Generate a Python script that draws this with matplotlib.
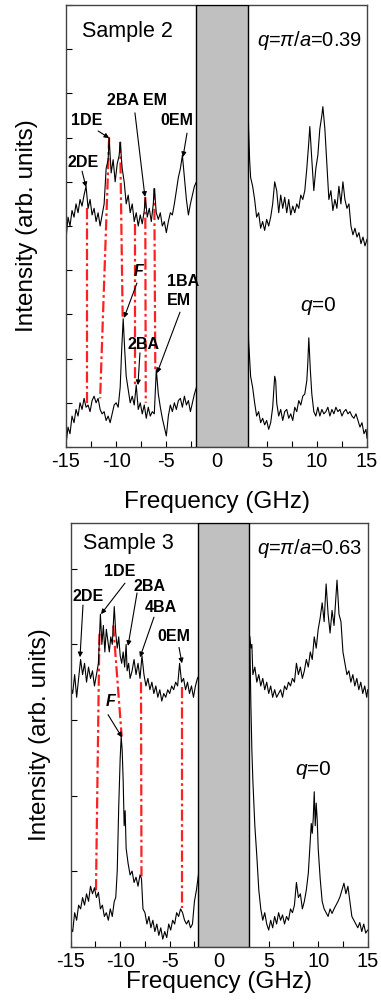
import matplotlib
matplotlib.use("Agg")
import matplotlib.pyplot as plt
from matplotlib.patches import Rectangle

plt.rcParams['font.family'] = ['Liberation Sans', 'DejaVu Sans']
plt.rcParams['mathtext.fontset'] = 'custom'
plt.rcParams['mathtext.it'] = 'Liberation Sans:italic'
plt.rcParams['mathtext.rm'] = 'Liberation Sans'
plt.rcParams['axes.unicode_minus'] = False

# ---------------- Sample 2 (top panel) ----------------
s2_hi_left_x = [-15.0, -14.8, -14.6, -14.4, -14.2, -14.0, -13.8, -13.6, -13.4, -13.2, -13.0, -12.8, -12.6, -12.4,
                -12.2, -12.0, -11.8, -11.6, -11.4, -11.2, -11.0, -10.8, -10.7, -10.5, -10.3, -10.1, -9.9, -9.7,
                -9.6, -9.4, -9.2, -9.0, -8.8, -8.6, -8.4, -8.2, -8.0, -7.8, -7.6, -7.4, -7.2, -7.1, -6.9, -6.7,
                -6.5, -6.3, -6.2, -6.0, -5.8, -5.6, -5.4, -5.2, -5.0, -4.8, -4.6, -4.4, -4.2, -4.0, -3.8, -3.6,
                -3.4, -3.2, -3.0, -2.8, -2.6, -2.4, -2.2, -2.0]
s2_hi_left_y = [4.7, 5.2, 5.0, 5.35, 5.2, 5.5, 5.3, 5.6, 5.45, 5.7, 5.9, 5.4, 5.6, 5.25,
                5.4, 5.1, 5.3, 5.0, 5.25, 5.5, 6.3, 6.5, 7.0, 6.2, 6.5, 6.0, 6.4, 6.6,
                6.9, 6.3, 6.0, 5.5, 5.7, 5.3, 5.5, 5.1, 5.3, 5.0, 5.25, 5.05, 5.35, 5.65, 5.2, 5.4,
                5.1, 5.5, 5.85, 5.3, 5.15, 5.3, 5.0, 5.1, 4.85, 5.1, 5.3, 5.25, 5.5, 5.8, 6.1, 6.3,
                6.6, 6.1, 5.6, 5.25, 5.5, 5.7, 5.9, 6.0]
s2_hi_right_x = [3.1, 3.2, 3.3, 3.4, 3.6, 3.8, 4.0, 4.2, 4.4, 4.6, 4.8, 5.0, 5.2, 5.4, 5.6, 5.8, 6.0, 6.2, 6.4,
                 6.6, 6.8, 7.0, 7.2, 7.4, 7.6, 7.8, 8.0, 8.2, 8.4, 8.6, 8.8, 9.0, 9.2, 9.3, 9.5, 9.7, 9.9, 10.1,
                 10.3, 10.5, 10.6, 10.8, 11.0, 11.2, 11.4, 11.6, 11.8, 12.0, 12.2, 12.4, 12.6, 12.8, 13.0, 13.2,
                 13.4, 13.6, 13.8, 14.0, 14.2, 14.4, 14.6, 14.8, 15.0]
s2_hi_right_y = [8.6, 7.2, 6.5, 6.1, 5.9, 5.6, 5.2, 5.3, 4.95, 5.1, 4.9, 5.15, 5.0, 5.2, 5.5, 6.0, 5.8, 5.3, 5.7,
                 5.4, 5.65, 5.3, 5.6, 5.25, 5.45, 5.3, 5.5, 5.4, 5.7, 5.6, 5.8, 6.3, 6.9, 7.25, 6.5, 5.8, 6.3, 6.6,
                 7.2, 7.5, 7.7, 7.2, 6.4, 5.6, 5.8, 5.35, 5.6, 5.4, 5.9, 5.5, 6.0, 5.6, 5.4, 5.5,
                 5.0, 4.8, 4.95, 4.75, 4.85, 4.6, 4.75, 4.55, 4.7]

s2_lo_left_x = [-15.0, -14.8, -14.6, -14.4, -14.2, -14.0, -13.8, -13.6, -13.4, -13.2, -13.0, -12.8, -12.6, -12.4,
                -12.2, -12.0, -11.8, -11.6, -11.4, -11.2, -11.0, -10.8, -10.6, -10.4, -10.2, -10.0, -9.8, -9.6,
                -9.45, -9.3, -9.15, -9.0, -8.8, -8.6, -8.4, -8.2, -8.0, -7.8, -7.6, -7.4, -7.2, -7.0, -6.8,
                -6.6, -6.4, -6.2, -6.0, -5.8, -5.6, -5.4, -5.2, -5.0, -4.8, -4.6, -4.4, -4.2, -4.0, -3.8, -3.6,
                -3.4, -3.2, -3.0, -2.8, -2.6, -2.4, -2.2, -2.0]
s2_lo_left_y = [0.05, 0.45, 0.3, 0.7, 0.55, 0.85, 0.7, 1.0, 0.85, 1.1, 0.9, 0.95, 0.8, 1.05,
                1.15, 1.0, 1.1, 0.85, 0.75, 0.8, 0.6, 0.7, 0.55, 0.75, 0.95, 1.0, 0.9, 1.35,
                2.2, 2.9, 2.2, 1.6, 1.3, 1.0, 1.15, 0.95, 1.4, 0.85, 1.0, 0.75, 0.95, 0.65, 0.9,
                0.7, 0.8, 0.75, 1.75, 1.2, 0.9, 0.65, 0.45, 0.25, 0.7, 0.95, 0.8, 1.0, 0.85, 1.05, 1.1,
                0.9, 1.15, 0.95, 1.05, 0.8, 1.0, 1.2, 1.35]
s2_lo_right_x = [3.1, 3.15, 3.2, 3.3, 3.4, 3.6, 3.8, 4.0, 4.2, 4.4, 4.6, 4.8, 5.0, 5.2, 5.4, 5.6, 5.8, 5.9, 6.0,
                 6.2, 6.4, 6.6, 6.8, 7.0, 7.2, 7.4, 7.6, 7.8, 8.0, 8.2, 8.4, 8.6, 8.8, 9.0, 9.1, 9.2, 9.35, 9.5,
                 9.7, 9.9, 10.1, 10.3, 10.5, 10.7, 10.9, 11.1, 11.3, 11.5, 11.7, 11.9, 12.1, 12.3, 12.5, 12.7,
                 12.9, 13.1, 13.3, 13.5, 13.7, 13.9, 14.1, 14.3, 14.5, 14.7, 14.9, 15.0]
s2_lo_right_y = [5.0, 3.1, 2.4, 2.0, 1.6, 1.35, 1.0, 0.7, 0.8, 0.55, 0.65, 0.5, 0.6, 0.4, 0.55, 0.9, 1.6, 1.5, 1.0,
                 0.7, 0.85, 0.6, 0.8, 0.85, 0.65, 0.75, 0.6, 0.9, 0.8, 1.05, 0.95, 1.15, 1.2, 1.5, 1.9, 2.47, 1.75, 1.2,
                 0.8, 0.7, 0.9, 0.7, 0.85, 0.75, 0.8, 0.9, 0.7, 0.85, 0.75, 0.9, 0.8, 0.85, 0.7, 0.8,
                 0.85, 0.75, 0.8, 0.7, 0.65, 0.75, 0.6, 0.45, 0.55, 0.3, 0.4, 0.2]

# red guide lines (x_top, y_top, x_bottom, y_bottom)
s2_guides = [(-12.9, 5.4, -12.9, 0.9), (-10.7, 7.0, -11.6, 1.1), (-9.6, 6.9, -9.35, 2.9),
             (-8.1, 5.05, -8.1, 1.4), (-7.1, 5.65, -7.05, 1.0), (-6.2, 5.85, -6.1, 1.75)]
# labels: text, text pos, arrow tail, arrow head, italic
s2_labels = [("2DE", (-13.3, 6.43), (-13.4, 6.24), (-13.0, 5.88), False),
             ("1DE", (-12.9, 7.38), (-11.8, 7.15), (-10.7, 6.99), False),
             ("2BA EM", (-7.93, 7.83), (-8.13, 7.56), (-7.13, 5.66), False),
             ("0EM", (-3.94, 7.38), (-2.94, 7.10), (-3.34, 6.56), False),
             ("F", (-7.73, 3.96), (-7.93, 3.71), (-9.22, 2.92), True),
             ("2BA", (-7.23, 2.33), (-7.63, 2.13), (-7.83, 1.40), False),
             ("1BA\nEM", (-4.94, 3.53), (-3.64, 3.05), (-5.93, 1.67), False)]

# ---------------- Sample 3 (bottom panel) ----------------
s3_hi_left_x = [-15.0, -14.8, -14.6, -14.4, -14.2, -14.0, -13.8, -13.6, -13.4, -13.2, -13.0, -12.8, -12.6, -12.4,
                -12.2, -12.0, -11.85, -11.7, -11.55, -11.4, -11.25, -11.1, -10.95, -10.8, -10.6, -10.45, -10.3,
                -10.15, -10.0, -9.85, -9.7, -9.55, -9.4, -9.3, -9.15, -9.0, -8.8, -8.6, -8.4, -8.2, -8.0, -7.8,
                -7.6, -7.4, -7.2, -7.0, -6.8, -6.6, -6.4, -6.2, -6.0, -5.8, -5.6, -5.4, -5.2, -5.0, -4.8, -4.6,
                -4.4, -4.2, -4.0, -3.8, -3.6, -3.4, -3.2, -3.0, -2.8, -2.6, -2.4, -2.2, -2.0]
s3_hi_left_y = [3.45, 3.35, 3.6, 3.3, 3.55, 3.8, 3.6, 3.75, 3.5, 3.7, 3.55, 3.65, 3.45, 3.6,
                3.75, 4.4, 4.0, 4.25, 3.9, 4.2, 4.05, 3.9, 4.1, 4.0, 4.5, 4.15, 3.95,
                4.1, 3.85, 3.75, 3.9, 3.7, 4.0, 3.65, 3.75, 3.55, 3.65, 3.8, 3.6, 3.75, 3.55, 3.85,
                3.6, 3.45, 3.55, 3.4, 3.5, 3.35, 3.45, 3.3, 3.4, 3.25, 3.35, 3.3, 3.4, 3.35, 3.45, 3.4,
                3.5, 3.45, 3.75, 3.5, 3.55, 3.4, 3.5, 3.35, 3.45, 3.3, 3.45, 3.55, 3.6]
s3_hi_right_x = [3.1, 3.2, 3.3, 3.4, 3.6, 3.8, 4.0, 4.2, 4.4, 4.6, 4.8, 5.0, 5.2, 5.4, 5.6, 5.8, 6.0, 6.2, 6.4,
                 6.6, 6.8, 7.0, 7.2, 7.4, 7.6, 7.8, 8.0, 8.2, 8.4, 8.6, 8.8, 9.0, 9.2, 9.4, 9.6, 9.8, 10.0, 10.2,
                 10.4, 10.6, 10.8, 11.0, 11.2, 11.4, 11.6, 11.9, 12.1, 12.3, 12.5, 12.7, 12.9, 13.1, 13.3, 13.5,
                 13.7, 13.9, 14.1, 14.3, 14.5, 14.7, 14.9, 15.0]
s3_hi_right_y = [4.1, 3.95, 4.0, 3.6, 3.7, 3.5, 3.6, 3.45, 3.55, 3.4, 3.5, 3.35, 3.45, 3.3, 3.4, 3.3, 3.35, 3.4, 3.3,
                 3.45, 3.4, 3.5, 3.45, 3.55, 3.5, 3.75, 3.6, 3.7, 3.55, 3.65, 3.8, 3.7, 3.9, 3.8, 4.1, 3.95, 4.2, 4.35,
                 4.55, 4.3, 4.8, 4.4, 4.15, 4.45, 4.25, 4.85, 4.4, 4.3, 3.9, 3.75, 3.6, 3.65, 3.5, 3.6,
                 3.45, 3.55, 3.4, 3.5, 3.35, 3.45, 3.3, 3.4]

s3_lo_left_x = [-15.0, -14.8, -14.6, -14.4, -14.2, -14.0, -13.8, -13.6, -13.4, -13.2, -13.0, -12.8, -12.6, -12.4,
                -12.2, -12.0, -11.8, -11.6, -11.4, -11.2, -11.0, -10.8, -10.6, -10.45, -10.3, -10.15, -10.0, -9.9,
                -9.8, -9.7, -9.6, -9.5, -9.4, -9.3, -9.2, -9.0, -8.8, -8.6, -8.4, -8.2, -8.0, -7.85, -7.7, -7.5,
                -7.3, -7.1, -6.9, -6.7, -6.5, -6.3, -6.1, -5.9, -5.7, -5.5, -5.3, -5.1, -4.9, -4.7, -4.5, -4.3,
                -4.1, -3.9, -3.7, -3.5, -3.3, -3.1, -2.9, -2.7, -2.5, -2.3, -2.1, -2.0]
s3_lo_left_y = [0.25, 0.2, 0.45, 0.35, 0.55, 0.5, 0.65, 0.55, 0.7, 0.6, 0.8, 0.7, 0.78, 0.65,
                0.72, 0.5, 0.55, 0.4, 0.45, 0.35, 0.5, 0.4, 0.6, 0.65, 1.0, 1.85, 2.5, 2.78,
                2.6, 2.2, 1.6, 1.8, 1.3, 1.2, 1.1, 0.95, 1.0, 0.85, 0.92, 0.8, 0.95, 0.9, 0.5, 0.45,
                0.3, 0.4, 0.25, 0.35, 0.2, 0.3, 0.15, 0.25, 0.1, 0.2, 0.12, 0.3, 0.22, 0.35, 0.3, 0.45,
                0.4, 0.5, 0.45, 0.35, 0.3, 0.35, 0.25, 0.3, 0.6, 0.75, 0.95, 1.1]
s3_lo_right_x = [3.1, 3.2, 3.3, 3.4, 3.6, 3.8, 4.0, 4.2, 4.4, 4.6, 4.8, 5.0, 5.2, 5.4, 5.6, 5.8, 6.0, 6.2, 6.4,
                 6.6, 6.8, 7.0, 7.2, 7.4, 7.6, 7.8, 8.0, 8.2, 8.4, 8.6, 8.8, 9.0, 9.15, 9.3, 9.4, 9.5, 9.6, 9.7,
                 9.8, 9.9, 10.0, 10.2, 10.4, 10.6, 10.8, 11.0, 11.2, 11.4, 11.6, 11.8, 12.0, 12.2, 12.4, 12.6,
                 12.8, 13.0, 13.2, 13.4, 13.6, 13.8, 14.0, 14.2, 14.4, 14.6, 14.8, 15.0]
s3_lo_right_y = [4.0, 3.2, 2.6, 2.2, 1.6, 1.2, 0.75, 0.5, 0.35, 0.45, 0.3, 0.22, 0.35, 0.25, 0.4, 0.3, 0.45, 0.35, 0.42,
                 0.3, 0.4, 0.35, 0.5, 0.45, 0.55, 0.85, 0.65, 0.7, 0.5, 0.6, 0.75, 0.97, 1.3, 1.63, 1.5, 1.7, 2.05, 1.6,
                 1.9, 1.68, 1.3, 0.9, 0.6, 0.5, 0.45, 0.4, 0.5, 0.44, 0.5, 0.55, 0.6, 0.66, 0.75, 0.84,
                 0.7, 0.8, 0.6, 0.4, 0.35, 0.3, 0.25, 0.32, 0.2, 0.3, 0.18, 0.22]

s3_guides = [(-12.1, 4.14, -12.45, 0.72), (-10.7, 4.25, -9.85, 2.78),
             (-7.9, 3.5, -7.85, 0.93), (-3.8, 3.44, -3.8, 0.51)]
s3_labels = [("2DE", (-13.25, 4.64), (-13.76, 4.52), (-14.06, 3.83), False),
             ("1DE", (-10.02, 4.96), (-9.52, 4.81), (-11.94, 4.40), False),
             ("2BA", (-7.09, 4.77), (-8.30, 4.68), (-9.21, 3.98), False),
             ("4BA", (-5.88, 4.49), (-6.59, 4.36), (-8.0, 3.83), False),
             ("0EM", (-4.57, 4.11), (-4.06, 3.96), (-3.76, 3.75), False),
             ("F", (-10.93, 3.24), (-11.23, 3.07), (-9.82, 2.77), True)]

xticks = [-15, -10, -5, 0, 5, 10, 15]

fig = plt.figure(figsize=(3.81, 10.01), dpi=100)
ax1 = fig.add_axes([66 / 381, 1 - 447 / 1001, 301 / 381, 442 / 1001])
ax2 = fig.add_axes([70.7 / 381, 1 - 946.7 / 1001, 297 / 381, 424 / 1001])


def style(ax, ylim, gray, ylabel_x, xlabel_y):
    ax.set_xlim(-15, 15)
    ax.set_ylim(*ylim)
    ax.add_patch(Rectangle((gray[0], ylim[0]), gray[1] - gray[0], ylim[1] - ylim[0],
                           facecolor='#c0c0c0', edgecolor='black', lw=1.0, zorder=3))
    ax.set_xticks(xticks)
    ax.set_xticks([-12.5, -7.5, -2.5, 2.5, 7.5, 12.5], minor=True)
    ax.set_yticks(range(int(ylim[0]), int(ylim[1]) + 1))
    ax.set_yticklabels([])
    ax.tick_params(axis='both', which='both', direction='in', top=False, right=False,
                   labelsize=14.5, length=4, width=0.8, pad=3.5)
    for sp in ax.spines.values():
        sp.set_color('#444444')
        sp.set_linewidth(1.0)
    ax.set_xlabel('Frequency (GHz)', fontsize=17.5)
    ax.set_ylabel('Intensity (arb. units)', fontsize=17.5)
    ax.yaxis.set_label_coords(ylabel_x, 0.5)
    ax.xaxis.set_label_coords(0.5, xlabel_y)


def draw(ax, segs, guides, labels):
    for xs, ys in segs:
        ax.plot(xs, ys, color='black', lw=0.8, zorder=2)
    for x0, y0, x1, y1 in guides:
        ax.plot([x0, x1], [y0, y1], color='#ff2020', lw=1.6,
                linestyle=(0, (5, 1.5, 1.2, 1.5)), zorder=1)
    for txt, tp, tail, head, ital in labels:
        ax.text(tp[0], tp[1], txt, fontsize=11.5, fontweight='bold',
                fontstyle='italic' if ital else 'normal',
                ha='left' if '\n' in txt else 'center', va='center', zorder=5,
                linespacing=1.3)
        ax.annotate('', xy=head, xytext=tail,
                    arrowprops=dict(arrowstyle='-|>', color='black', lw=0.8,
                                    mutation_scale=7, shrinkA=0, shrinkB=0), zorder=5)


style(ax1, (0, 10), (-2.0, 3.1), -0.093, -0.0995)
draw(ax1, [(s2_hi_left_x, s2_hi_left_y), (s2_hi_right_x, s2_hi_right_y),
           (s2_lo_left_x, s2_lo_left_y), (s2_lo_right_x, s2_lo_right_y)], s2_guides, s2_labels)
ax1.text(-8.92, 9.39, 'Sample 2', fontsize=15.5, ha='center', va='center')
ax1.text(14.5, 9.19, r'$q$=$\pi$/$a$=0.39', fontsize=14.5, ha='right', va='center')
ax1.text(10.12, 3.19, r'$q$=0', fontsize=15, ha='center', va='center')

style(ax2, (0, 5.61), (-2.1, 3.05), -0.066, -0.057)
draw(ax2, [(s3_hi_left_x, s3_hi_left_y), (s3_hi_right_x, s3_hi_right_y),
           (s3_lo_left_x, s3_lo_left_y), (s3_lo_right_x, s3_lo_right_y)], s3_guides, s3_labels)
ax2.text(-9.21, 5.34, 'Sample 3', fontsize=15.5, ha='center', va='center')
ax2.text(14.42, 5.27, r'$q$=$\pi$/$a$=0.63', fontsize=14.5, ha='right', va='center')
ax2.text(9.47, 2.34, r'$q$=0', fontsize=15, ha='center', va='center')

fig.savefig('out.png', dpi=100)
